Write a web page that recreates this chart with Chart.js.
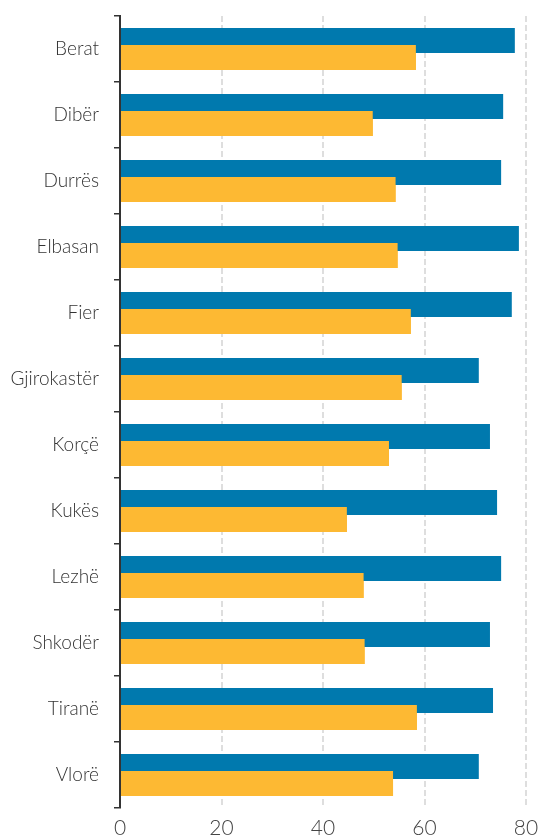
<!DOCTYPE html>
<html>
<head>
<meta charset="utf-8">
<script src="https://cdn.jsdelivr.net/npm/chart.js@4"></script>
<style>
html,body{margin:0;padding:0;background:#fff;}
#wrap{position:relative;width:538px;height:835px;}
</style>
</head>
<body>
<div id="wrap"><canvas id="c" width="538" height="835"></canvas></div>
<script>
const categories = ["Berat","Dibër","Durrës","Elbasan","Fier","Gjirokastër","Korçë","Kukës","Lezhë","Shkodër","Tiranë","Vlorë"];
const blueValues = [77.8,75.5,75.1,78.6,77.2,70.7,72.9,74.3,75.1,72.9,73.5,70.7];
const orangeValues = [58.3,49.8,54.3,54.7,57.3,55.5,53.0,44.7,48.0,48.2,58.5,53.8];
const xTicks = [0,20,40,60,80];

const FONT = "Lato, 'Open Sans', sans-serif";

const orangeOnTop = {
  id: 'orangeOnTop',
  afterDatasetsDraw(chart) {
    const meta = chart.getDatasetMeta(1);
    const ctx = chart.ctx;
    const a = chart.chartArea;
    ctx.save();
    ctx.beginPath();
    ctx.rect(a.left, a.top, a.right - a.left, a.bottom - a.top);
    ctx.clip();
    meta.controller.draw();
    ctx.restore();
  }
};

function noPad(scale) {
  scale.paddingLeft = 0; scale.paddingRight = 0;
  scale.paddingTop = 0; scale.paddingBottom = 0;
}

new Chart(document.getElementById('c'), {
  type: 'bar',
  data: {
    labels: categories,
    datasets: [
      { label: 'A', data: blueValues, backgroundColor: '#0079ae', borderWidth: 0 },
      { label: 'B', data: orangeValues, backgroundColor: '#fdb933', borderWidth: 0 }
    ]
  },
  options: {
    indexAxis: 'y',
    responsive: false,
    animation: false,
    devicePixelRatio: 1,
    categoryPercentage: 0.515,
    barPercentage: 1.47,
    layout: { padding: { top: 16, right: 12, left: 0, bottom: 0 } },
    plugins: { legend: { display: false }, tooltip: { enabled: false } },
    scales: {
      x: {
        type: 'linear',
        min: 0, max: 80,
        afterBuildTicks(scale) { scale.ticks = xTicks.map(v => ({ value: v })); },
        afterFit(scale) { scale.height = 27; noPad(scale); },
        border: { display: false, dash: [6, 3] },
        grid: {
          color: '#dedede',
          lineWidth: 2,
          drawTicks: false
        },
        ticks: {
          color: '#444',
          padding: 8,
          font: { family: FONT, size: 21, weight: '300' }
        }
      },
      y: {
        afterFit(scale) { scale.width = 120; noPad(scale); },
        border: { display: true, color: '#333', width: 2 },
        grid: {
          drawOnChartArea: false,
          color: '#333',
          lineWidth: 1.5,
          tickLength: 6,
          offset: true
        },
        ticks: {
          color: '#333',
          padding: 15,
          font: { family: FONT, size: 19, weight: '300' }
        }
      }
    }
  },
  plugins: [orangeOnTop]
});
</script>
</body>
</html>
